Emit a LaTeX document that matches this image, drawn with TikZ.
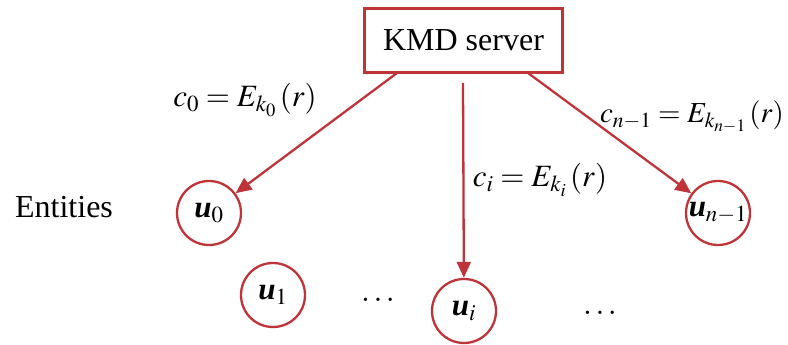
\documentclass[tikz,border=0pt]{standalone}
\usepackage{mathptmx}
\usepackage{fontspec}
\setmainfont{Liberation Serif}
\usetikzlibrary{arrows.meta}
\definecolor{kred}{RGB}{190,52,56}
\newcommand{\uvar}{\hbox{\bfseries\itshape u}}
\tikzset{
  entity/.style={circle, draw=kred, line width=2.3pt, minimum size=64pt, inner sep=0pt, font=\fontsize{31}{36}\selectfont},
  server/.style={draw=kred, line width=2.3pt, minimum width=198pt, minimum height=64pt, font=\fontsize{32}{38}\selectfont},
  link/.style={draw=kred, line width=2.3pt, -{Triangle[length=16pt,width=14pt]}},
  lbl/.style={font=\fontsize{31}{36}\selectfont, inner sep=0pt},
  plain/.style={font=\fontsize{32}{38}\selectfont, inner sep=0pt}
}
\begin{document}
\begin{tikzpicture}[x=1pt,y=-1pt]
  \useasboundingbox (0,0) rectangle (788,345);
  % server and entities
  \node[server] (kmd) at (463.5,40.5) {KMD server};
  \node[entity] (u0) at (209,213) {$\uvar_0$};
  \node[entity] (u1) at (273,295) {$\uvar_1$};
  \node[entity] (ui) at (464,311) {$\uvar_i$};
  \node[entity] (un) at (718,213) {$\uvar_{n-1}$};
  \node[plain] (ent) at (64,207) {Entities};
  \node[plain] (dots1) at (378,300) {$\ldots$};
  \node[plain] (dots2) at (600,313) {$\ldots$};
  % start points of the key messages on the server box
  \coordinate (s0) at (397,73);
  \coordinate (si) at (463,83);
  \coordinate (sn) at (528,73);
  \draw[link] (s0) -- (u0);
  \draw[link] (si) -- (ui);
  \draw[link] (sn) -- (un);
  % ciphertext labels
  \node[lbl] (c0) at (245,100) {$c_0=E_{k_0}\,(r)$};
  \node[lbl] (ci) at (540,180) {$c_i=E_{k_i}\,(r)$};
  \node[lbl, font=\fontsize{29}{34}\selectfont] (cn) at (692,117) {$c_{n-1}=E_{k_{n-1}}\,(r)$};
\end{tikzpicture}
\end{document}
